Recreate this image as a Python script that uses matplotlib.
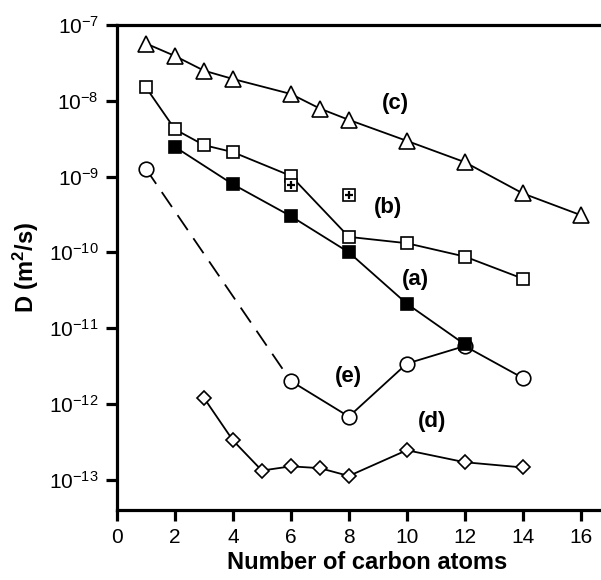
import matplotlib
matplotlib.use('Agg')
import matplotlib.pyplot as plt

plt.rcParams['font.family'] = ['Liberation Sans', 'DejaVu Sans']
plt.rcParams['mathtext.fontset'] = 'custom'
plt.rcParams['mathtext.rm'] = 'Liberation Sans'
plt.rcParams['mathtext.bf'] = 'Liberation Sans:bold'

# (c) triangles
c_x = [1, 2, 3, 4, 6, 7, 8, 10, 12, 14, 16]
c_y = [5.7e-8, 3.9e-8, 2.5e-8, 1.94e-8, 1.23e-8, 7.9e-9, 5.6e-9, 2.96e-9, 1.55e-9, 6.0e-10, 3.1e-10]

# (b) open squares
b_x = [1, 2, 3, 4, 6, 8, 10, 12, 14]
b_y = [1.5e-8, 4.2e-9, 2.6e-9, 2.1e-9, 1.02e-9, 1.6e-10, 1.32e-10, 8.8e-11, 4.5e-11]

# extra points (squares with plus)
p_x = [6, 8]
p_y = [7.8e-10, 5.7e-10]

# (a) filled squares
a_x = [2, 4, 6, 8, 10, 12]
a_y = [2.46e-9, 7.9e-10, 3.0e-10, 1.0e-10, 2.1e-11, 6.1e-12]

# (e) circles, dashed from 1 to 6
e_x = [1, 6, 8, 10, 12, 14]
e_y = [1.26e-9, 2.0e-12, 6.8e-13, 3.4e-12, 5.8e-12, 2.2e-12]

# (d) diamonds
d_x = [3, 4, 5, 6, 7, 8, 10, 12, 14]
d_y = [1.2e-12, 3.3e-13, 1.32e-13, 1.5e-13, 1.42e-13, 1.12e-13, 2.45e-13, 1.7e-13, 1.45e-13]

xticks = [0, 2, 4, 6, 8, 10, 12, 14, 16]
yexp = [-13, -12, -11, -10, -9, -8, -7]

fig = plt.figure(figsize=(6.01, 5.80), dpi=100)
ax = fig.add_axes([117/601, 70/580, 1 - 117/601, 485/580])

lw = 1.3
mk = dict(color='black', lw=lw, markeredgecolor='black', markeredgewidth=1.2)

ax.plot(e_x[:2], e_y[:2], color='black', lw=lw, dashes=(10, 5.5))
ax.plot(e_x[1:], e_y[1:], **mk)
ax.plot(e_x, e_y, ls='none', marker='o', ms=10.5, mfc='white', mec='black', mew=1.2, zorder=3)

ax.plot(c_x, c_y, marker='^', ms=11, mfc='white', **mk)
ax.plot(b_x, b_y, marker='s', ms=9, mfc='white', **mk)
ax.plot(a_x, a_y, marker='s', ms=9, mfc='black', zorder=4, **mk)
ax.plot(d_x, d_y, marker='D', ms=7.5, mfc='white', **mk)

ax.plot(p_x, p_y, ls='none', marker='s', ms=9, mfc='white', mec='black', mew=1.2, zorder=5)
ax.plot(p_x, p_y, ls='none', marker='+', ms=6, mec='black', mew=1.6, zorder=6)

lab = dict(fontsize=16, fontweight='bold', ha='center', va='center')
ax.text(9.6, 10**-8.03, '(c)', **lab)
ax.text(9.35, 10**-9.41, '(b)', **lab)
ax.text(10.3, 10**-10.36, '(a)', **lab)
ax.text(7.97, 10**-11.64, '(e)', **lab)
ax.text(10.86, 10**-12.23, '(d)', **lab)

ax.set_yscale('log')
ax.set_xlim(0, 16.7)
ax.set_ylim(10**-13.4, 1e-7)
ax.set_xticks(xticks)
ax.set_xticklabels([str(t) for t in xticks])
ax.set_yticks([10.0**e for e in yexp])
ax.set_yticklabels([r'$\mathregular{10^{%d}}$' % e for e in yexp])
ax.minorticks_off()

for s in ['left', 'bottom', 'top']:
    ax.spines[s].set_linewidth(2.3)
ax.spines['right'].set_visible(False)
ax.tick_params(axis='both', which='major', direction='out', length=8, width=2.3,
               labelsize=15, pad=5)

ax.set_xlabel('Number of carbon atoms', fontsize=17, fontweight='bold')
ax.xaxis.set_label_coords(0.517, -0.085)
ax.set_ylabel(r'D (m$\mathbf{^2}$/s)', fontsize=17, fontweight='bold', labelpad=6)

fig.savefig('out.png', dpi=100)
